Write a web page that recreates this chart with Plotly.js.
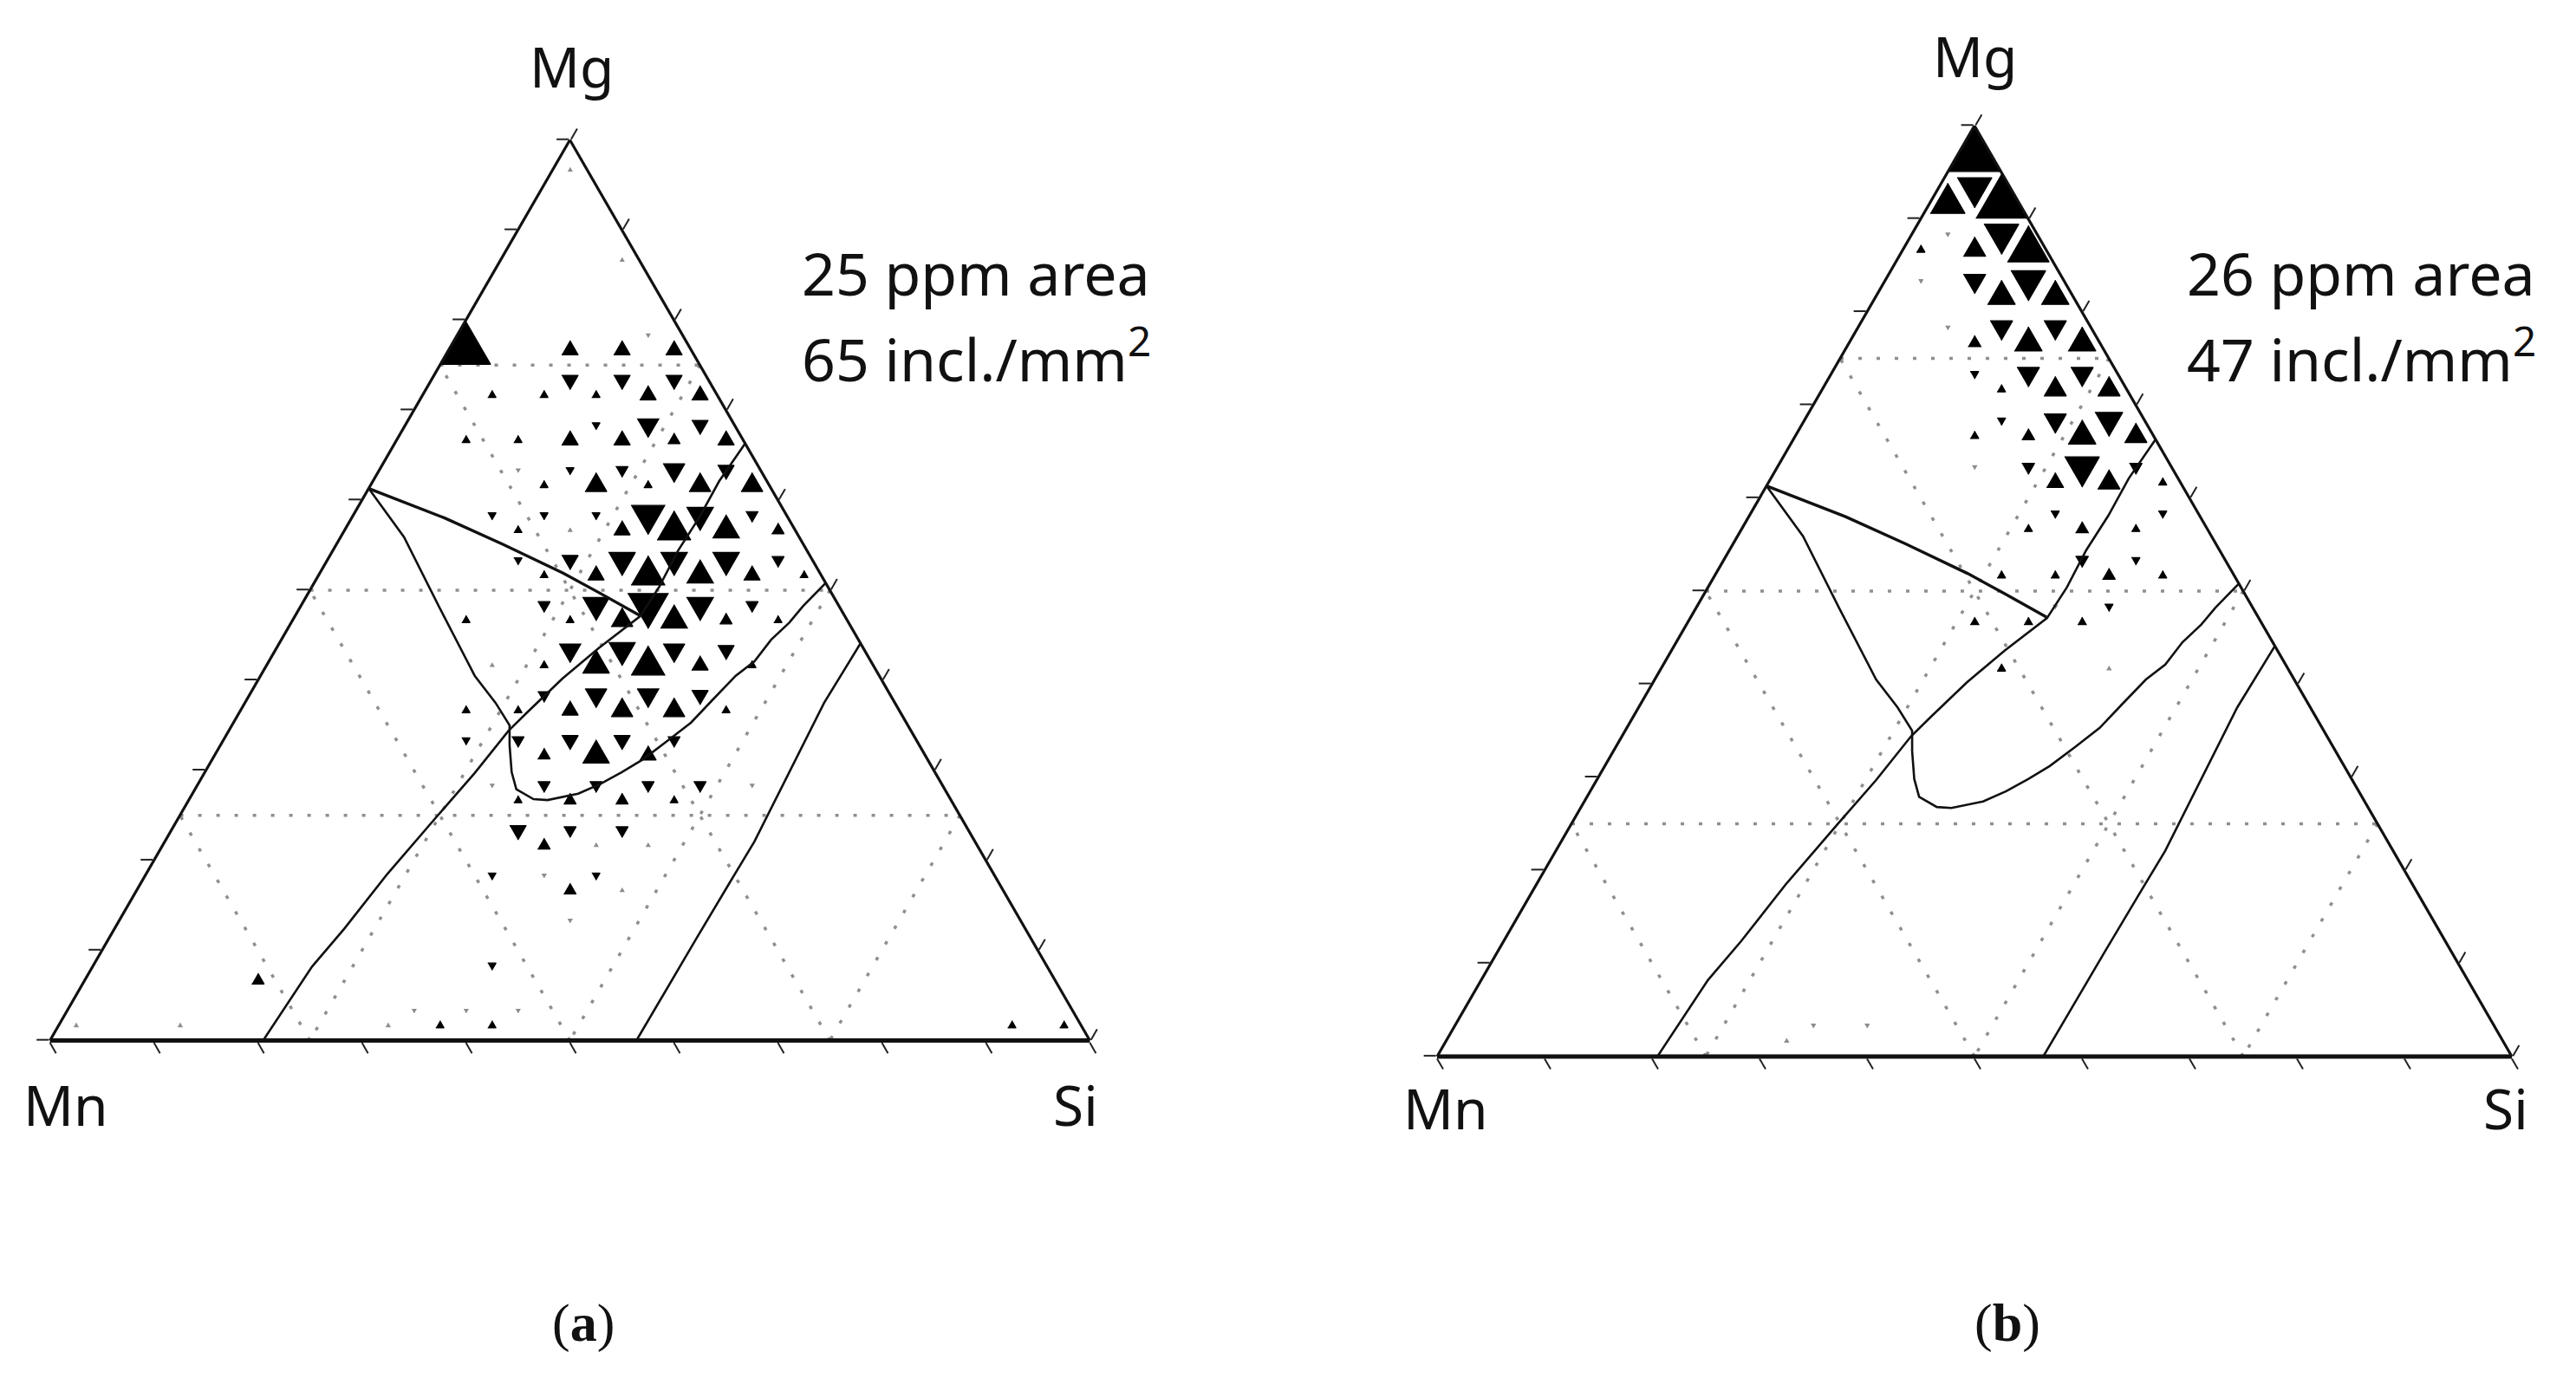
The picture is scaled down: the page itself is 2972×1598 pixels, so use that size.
<!DOCTYPE html>
<html>
<head>
<meta charset="utf-8">
<script src="https://cdn.plot.ly/plotly-3.0.1.min.js"></script>
<style>
  html, body { margin: 0; padding: 0; background: #fff; }
  #chart { width: 2972px; height: 1598px; }
</style>
</head>
<body>
<div id="chart"></div>
<script>
// triangular binning, 20 divisions per side
// each cell: [Mg band, Si column, frequency level 1..9]
const BINS = 20;

const upCellsA = [
  [19, 0, 1], [17, 2, 1],
  [15, 0, 9], [15, 2, 4], [15, 3, 4], [15, 4, 4],
  [14, 1, 2], [14, 2, 2], [14, 3, 2], [14, 4, 4], [14, 5, 4],
  [13, 1, 2], [13, 2, 2], [13, 3, 4], [13, 4, 4], [13, 5, 3], [13, 6, 4],
  [12, 3, 2], [12, 4, 5], [12, 5, 2], [12, 6, 5], [12, 7, 5],
  [11, 3, 2], [11, 4, 1], [11, 5, 4], [11, 6, 7], [11, 7, 6], [11, 8, 3],
  [10, 4, 2], [10, 5, 4], [10, 6, 7], [10, 7, 6], [10, 8, 4], [10, 9, 2],
  [9, 3, 2], [9, 5, 2], [9, 6, 5], [9, 7, 6], [9, 8, 3], [9, 9, 2],
  [8, 4, 1], [8, 5, 2], [8, 6, 6], [8, 7, 7], [8, 8, 4], [8, 9, 2],
  [7, 4, 2], [7, 5, 2], [7, 6, 4], [7, 7, 5], [7, 8, 5], [7, 9, 2],
  [6, 6, 3], [6, 7, 6], [6, 8, 4],
  [5, 6, 2], [5, 7, 3], [5, 8, 3], [5, 9, 2],
  [4, 7, 3], [4, 8, 1], [4, 9, 1],
  [3, 8, 3], [3, 9, 1],
  [1, 3, 3],
  [0, 0, 1], [0, 2, 1], [0, 6, 1], [0, 7, 2], [0, 8, 2], [0, 18, 2], [0, 19, 2]
];

const downCellsA = [
  [15, 3, 1],
  [14, 2, 4], [14, 3, 4], [14, 4, 4],
  [13, 3, 2], [13, 4, 5], [13, 5, 4],
  [12, 2, 1], [12, 3, 2], [12, 4, 3], [12, 5, 5], [12, 6, 4],
  [11, 2, 2], [11, 3, 2], [11, 4, 2], [11, 5, 7], [11, 6, 6], [11, 7, 3],
  [10, 3, 2], [10, 4, 4], [10, 5, 6], [10, 6, 6], [10, 7, 6], [10, 8, 3],
  [9, 4, 3], [9, 5, 6], [9, 6, 8], [9, 7, 6], [9, 8, 3],
  [8, 5, 5], [8, 6, 6], [8, 7, 5], [8, 8, 4],
  [7, 5, 3], [7, 6, 5], [7, 7, 5], [7, 8, 4],
  [6, 4, 2], [6, 5, 3], [6, 6, 4], [6, 7, 4], [6, 8, 3],
  [5, 5, 1], [5, 6, 3], [5, 7, 3], [5, 8, 3], [5, 9, 3], [5, 10, 1],
  [4, 6, 4], [4, 7, 3], [4, 8, 3],
  [3, 6, 2], [3, 7, 1], [3, 8, 2],
  [2, 8, 1], [1, 7, 2],
  [0, 6, 1], [0, 7, 1], [0, 8, 1]
];

const upCellsB = [
  [19, 0, 9],
  [18, 0, 7], [18, 1, 9],
  [17, 0, 2], [17, 1, 5], [17, 2, 8],
  [16, 2, 6], [16, 3, 6],
  [15, 2, 3], [15, 3, 6], [15, 4, 6],
  [14, 3, 2], [14, 4, 5], [14, 5, 5],
  [13, 3, 2], [13, 4, 3], [13, 5, 6], [13, 6, 5],
  [12, 5, 4], [12, 6, 5], [12, 7, 2],
  [11, 5, 2], [11, 6, 3], [11, 7, 2],
  [10, 5, 2], [10, 6, 2], [10, 7, 3], [10, 8, 2],
  [9, 5, 2], [9, 6, 2], [9, 7, 2],
  [8, 6, 2], [8, 8, 1],
  [0, 6, 1]
];

const downCellsB = [
  [18, 0, 7],
  [17, 0, 1], [17, 1, 7],
  [16, 0, 1], [16, 1, 5], [16, 2, 7],
  [15, 1, 1], [15, 2, 5], [15, 3, 5],
  [14, 2, 2], [14, 3, 5], [14, 4, 5],
  [13, 3, 2], [13, 4, 5], [13, 5, 6],
  [12, 3, 1], [12, 4, 3], [12, 5, 7], [12, 6, 3],
  [11, 5, 2], [11, 7, 2],
  [10, 6, 3], [10, 7, 2],
  [9, 6, 1], [9, 7, 2],
  [0, 6, 1], [0, 7, 1]
];

// phase boundaries, Mg % and Si % (Mn is the remainder)
const line1Mg = [61.3, 58.0, 55.1, 51.9, 49.7, 47.2];
const line1Si = [0.0, 9.0, 16.0, 23.4, 28.0, 33.1];

const line2Mg = [61.3, 55.9, 48.2, 40.5, 37.5, 35.0, 32.8, 29.8, 27.9, 26.8, 26.7, 27.4,
  28.5, 29.8, 31.2, 33.2, 35.3, 37.8, 40.5, 42.1, 44.5, 46.4, 48.2, 50.8];
const line2Si = [0.0, 6.1, 13.3, 20.6, 24.1, 26.7, 27.8, 29.5, 30.9, 33.1, 34.5, 37.1,
  38.7, 40.1, 41.4, 42.7, 44.0, 44.8, 45.7, 46.7, 47.1, 47.9, 48.3, 49.2];

const line3Mg = [66.3, 62.1, 58.1, 54.4, 50.4, 47.1, 43.6, 40.2, 36.5, 34.4, 29.7, 25.0, 18.5, 12.4, 8.2, 0.0];
const line3Si = [33.7, 33.3, 33.4, 33.2, 33.4, 33.2, 31.0, 29.2, 27.7, 26.9, 26.0, 24.8, 23.2, 22.1, 21.1, 20.5];

const line4Mg = [44.1, 37.5, 29.8, 22.1, 17.4, 11.3, 0.0];
const line4Si = [55.9, 55.7, 56.2, 56.7, 56.6, 56.5, 56.4];

const cornerLabels = ['Mg', 'Mn', 'Si'];
const areaText = ['25 ppm area', '26 ppm area'];
const densityText = ['65 incl./mm<sup>2</sup>', '47 incl./mm<sup>2</sup>'];
const panelLetters = ['a', 'b'];

// ---- styling ----
// glyph = bin triangle shrunk about its centroid, by frequency level
const LEVEL_SCALE = [0, 0.08, 0.16, 0.24, 0.32, 0.42, 0.52, 0.65, 0.78, 0.95];
const SANS = 'Noto Sans, DejaVu Sans, sans-serif';

function binGlyphs(upCells, downCells, pick) {
  const a = [], c = [];
  const add = (verts, cen, f) => {
    verts.forEach(v => {
      a.push((cen[0] + f * (v[0] - cen[0])) / BINS * 100);
      c.push((cen[1] + f * (v[1] - cen[1])) / BINS * 100);
    });
    a.push(null); c.push(null);
  };
  upCells.filter(pick).forEach(([m, s, l]) =>
    add([[m + 1, s], [m, s + 1], [m, s]], [m + 1 / 3, s + 1 / 3], LEVEL_SCALE[l]));
  downCells.filter(pick).forEach(([m, s, l]) =>
    add([[m, s + 1], [m + 1, s + 1], [m + 1, s]], [m + 2 / 3, s + 2 / 3], LEVEL_SCALE[l]));
  return { a, c };
}

function glyphTraces(upCells, downCells, subplot) {
  const mk = (pick, color) => {
    const g = binGlyphs(upCells, downCells, pick);
    return {
      type: 'scatterternary', subplot: subplot, mode: 'lines',
      a: g.a, c: g.c, fill: 'toself', fillcolor: color,
      line: { color: color, width: 1.2 }, connectgaps: false, hoverinfo: 'skip'
    };
  };
  return [
    mk(cell => cell[2] === 1, '#8c8c8c'),
    mk(cell => cell[2] > 1, '#000')
  ];
}

function boundaryTraces(subplot) {
  const mk = (a, c, w) => ({
    type: 'scatterternary', subplot: subplot, mode: 'lines',
    a: a, c: c, line: { color: '#111', width: w }, hoverinfo: 'skip'
  });
  return [
    mk(line1Mg, line1Si, 3.4),
    mk(line2Mg, line2Si, 2.6),
    mk(line3Mg, line3Si, 2.6),
    mk(line4Mg, line4Si, 2.6)
  ];
}

function gridTernary(dx, dy) {
  const ax = {
    min: 0, tick0: 0, dtick: 25, ticks: '', showticklabels: false,
    showline: false, showgrid: true, gridcolor: '#8f8f8f', gridwidth: 3.5,
    griddash: '4px,17px', layer: 'below traces', title: { text: '' }
  };
  return {
    domain: { x: dx, y: dy }, sum: 100, bgcolor: 'rgba(0,0,0,0)',
    aaxis: { ...ax }, baxis: { ...ax }, caxis: { ...ax }
  };
}

function frameTernary(dx, dy) {
  const ax = {
    min: 0, tick0: 0, dtick: 10, ticks: 'outside', ticklen: 14, tickwidth: 2,
    tickcolor: '#222', showticklabels: false, showgrid: false,
    showline: true, linecolor: '#111', linewidth: 3.2, title: { text: '' }
  };
  return {
    domain: { x: dx, y: dy }, sum: 100, bgcolor: 'rgba(0,0,0,0)',
    aaxis: { ...ax }, baxis: { ...ax, linewidth: 5 }, caxis: { ...ax }
  };
}

const domA = { x: [0.019347, 0.423116], y: [0.248748, 0.898936] };
const domB = { x: [0.557873, 0.975101], y: [0.237171, 0.909262] };

const traces = [
  ...glyphTraces(upCellsA, downCellsA, 'ternary'),
  ...boundaryTraces('ternary2'),
  ...glyphTraces(upCellsB, downCellsB, 'ternary3'),
  ...boundaryTraces('ternary4')
];

// label anchor positions in figure pixels
const cornerPos = [
  [[659, 76], [76, 1274], [1241, 1274]],
  [[2278, 65], [1668, 1278], [2891, 1278]]
];
const textX = [923, 2521];
const letterX = [673, 2316];
const px = v => v / 2972;
const py = v => 1 - v / 1598;

const annotations = [];
for (let i = 0; i < 2; i++) {
  for (let k = 0; k < 3; k++) {
    annotations.push({
      xref: 'paper', yref: 'paper', x: px(cornerPos[i][k][0]), y: py(cornerPos[i][k][1]),
      xanchor: 'center', yanchor: 'middle', showarrow: false,
      text: cornerLabels[k], font: { family: SANS, size: 64, color: '#111' }
    });
  }
  annotations.push({
    xref: 'paper', yref: 'paper', x: px(textX[i]), y: py(314),
    xanchor: 'left', yanchor: 'middle', showarrow: false,
    text: areaText[i], font: { family: SANS, size: 68, color: '#111' }
  });
  annotations.push({
    xref: 'paper', yref: 'paper', x: px(textX[i]), y: py(410),
    xanchor: 'left', yanchor: 'middle', showarrow: false,
    text: densityText[i], font: { family: SANS, size: 68, color: '#111' }
  });
  annotations.push({
    xref: 'paper', yref: 'paper', x: px(letterX[i]), y: py(1526),
    xanchor: 'center', yanchor: 'middle', showarrow: false,
    text: '(<b>' + panelLetters[i] + '</b>)',
    font: { family: 'Liberation Serif, Times New Roman, serif', size: 62, color: '#111' }
  });
}

const layout = {
  width: 2972, height: 1598,
  margin: { l: 0, r: 0, t: 0, b: 0 },
  paper_bgcolor: '#fff',
  showlegend: false,
  hovermode: false,
  ternary: gridTernary(domA.x, domA.y),
  ternary2: frameTernary(domA.x, domA.y),
  ternary3: gridTernary(domB.x, domB.y),
  ternary4: frameTernary(domB.x, domB.y),
  annotations: annotations
};

Plotly.newPlot('chart', traces, layout, { displayModeBar: false, staticPlot: true });
</script>
</body>
</html>
